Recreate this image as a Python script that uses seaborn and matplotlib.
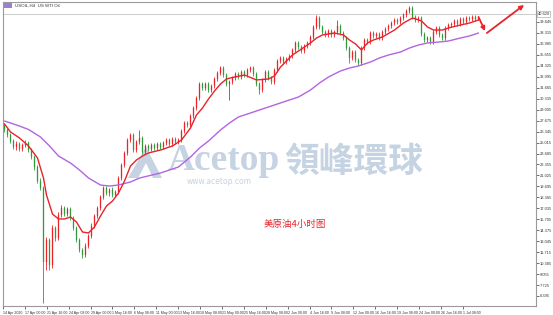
import numpy as np
import pandas as pd
import matplotlib
matplotlib.use("Agg")
import matplotlib.pyplot as plt
import seaborn as sns
from matplotlib.patches import Polygon, Rectangle

# ---------------- data (USOIL H4) ----------------
opens = [27.15, 26.54, 25.93, 25.20, 24.48, 24.84, 24.23, 24.72, 24.96, 24.11,
         23.26, 22.05, 20.35, 19.50, 10.52, 13.19, 10.16, 14.65, 13.43, 16.22,
         17.07, 16.34, 16.95, 15.86, 14.65, 13.19, 11.98, 11.37, 12.46, 13.67,
         14.89, 16.10, 17.07, 18.41, 19.50, 18.89, 19.26, 18.65, 19.01, 20.71,
         22.29, 23.75, 25.32, 25.93, 24.11, 25.08, 25.57, 23.87, 24.60, 24.23,
         24.72, 24.35, 24.84, 24.48, 24.96, 25.32, 24.84, 25.45, 25.08, 25.32,
         26.42, 27.39, 27.15, 28.24, 29.21, 30.42, 32.12, 31.64, 32.12, 31.39,
         31.88, 32.73, 33.46, 34.06, 33.21, 32.12, 32.36, 32.85, 33.33, 32.97,
         33.58, 33.21, 33.82, 34.06, 33.33, 32.12, 31.39, 32.61, 33.58, 32.85,
         32.36, 33.82, 34.91, 35.28, 34.79, 35.15, 35.52, 36.25, 37.10, 36.61,
         36.13, 36.73, 37.10, 37.83, 39.04, 40.13, 39.04, 38.43, 38.07, 38.55,
         38.07, 38.43, 39.16, 38.31, 37.70, 36.49, 35.28, 36.00, 35.03, 34.67,
         36.49, 37.46, 37.22, 38.31, 37.95, 38.19, 37.70, 38.43, 38.80, 39.16,
         39.52, 39.89, 39.65, 40.13, 40.49, 40.98, 41.34, 40.25, 39.89, 40.13,
         38.19, 37.46, 37.70, 37.22, 38.43, 38.92, 38.07, 37.70, 38.92, 39.28,
         39.40, 39.77, 39.40, 40.01, 39.65, 40.13, 40.01, 40.25, 40.01]
closes = [26.54, 25.93, 25.20, 24.48, 24.84, 24.23, 24.72, 24.96, 24.11, 23.26,
          22.05, 20.35, 19.50, 10.52, 13.19, 10.16, 14.65, 13.43, 16.22, 17.07,
          16.34, 16.95, 15.86, 14.65, 13.19, 11.98, 11.37, 12.46, 13.67, 14.89,
          16.10, 17.07, 18.41, 19.50, 18.89, 19.26, 18.65, 19.01, 20.71, 22.29,
          23.75, 25.32, 25.93, 24.11, 25.08, 25.57, 23.87, 24.60, 24.23, 24.72,
          24.35, 24.84, 24.48, 24.96, 25.32, 24.84, 25.45, 25.08, 25.32, 26.42,
          27.39, 27.15, 28.24, 29.21, 30.42, 32.12, 31.64, 32.12, 31.39, 31.88,
          32.73, 33.46, 34.06, 33.21, 32.12, 32.36, 32.85, 33.33, 32.97, 33.58,
          33.21, 33.82, 34.06, 33.33, 32.12, 31.39, 32.61, 33.58, 32.85, 32.36,
          33.82, 34.91, 35.28, 34.79, 35.15, 35.52, 36.25, 37.10, 36.61, 36.13,
          36.73, 37.10, 37.83, 39.04, 40.13, 39.04, 38.43, 38.07, 38.55, 38.07,
          38.43, 39.16, 38.31, 37.70, 36.49, 35.28, 36.00, 35.03, 34.67, 36.49,
          37.46, 37.22, 38.31, 37.95, 38.19, 37.70, 38.43, 38.80, 39.16, 39.52,
          39.89, 39.65, 40.13, 40.49, 40.98, 41.34, 40.25, 39.89, 40.13, 38.19,
          37.46, 37.70, 37.22, 38.43, 38.92, 38.07, 37.70, 38.92, 39.28, 39.40,
          39.77, 39.40, 40.01, 39.65, 40.13, 40.01, 40.25, 40.01, 40.13]
highs = [27.39, 26.78, 26.17, 25.45, 25.20, 25.08, 24.96, 25.32, 25.20, 24.35,
         23.50, 22.29, 20.71, 19.74, 13.55, 13.43, 15.01, 14.89, 16.59, 17.44,
         17.32, 17.19, 17.19, 16.10, 14.89, 13.43, 12.22, 12.83, 13.92, 15.25,
         16.34, 17.32, 18.65, 19.74, 19.74, 19.50, 19.62, 19.26, 20.96, 22.53,
         23.99, 25.57, 26.17, 26.17, 25.32, 26.54, 25.81, 24.84, 24.84, 24.96,
         24.96, 25.08, 25.08, 25.20, 25.57, 25.57, 25.69, 25.69, 25.57, 26.66,
         27.63, 27.63, 28.48, 29.45, 30.66, 32.36, 32.36, 32.36, 32.36, 32.12,
         32.97, 33.70, 34.31, 34.31, 33.46, 32.61, 33.09, 33.58, 33.58, 33.82,
         33.82, 34.06, 34.31, 34.31, 33.58, 32.36, 32.85, 33.82, 33.82, 33.09,
         34.06, 35.15, 35.52, 35.52, 35.40, 35.76, 36.49, 37.34, 37.34, 36.85,
         36.98, 37.34, 38.07, 39.28, 40.49, 40.37, 39.28, 38.67, 38.80, 38.80,
         38.67, 39.89, 39.40, 38.55, 37.95, 36.73, 36.25, 36.25, 35.28, 36.73,
         37.70, 37.70, 38.55, 38.55, 38.43, 38.43, 38.67, 39.04, 39.40, 39.77,
         40.13, 40.13, 40.37, 40.74, 41.22, 41.59, 41.59, 40.49, 40.37, 40.37,
         38.43, 37.95, 37.95, 38.67, 39.16, 39.16, 38.31, 39.16, 39.52, 39.65,
         40.01, 40.01, 40.25, 40.25, 40.37, 40.37, 40.49, 40.49, 40.37]
lows = [26.30, 25.69, 24.96, 24.23, 24.11, 23.99, 23.99, 24.48, 23.87, 23.02,
        21.68, 20.11, 19.26, 5.55, 9.55, 9.55, 9.79, 13.07, 13.19, 15.98,
        16.10, 16.10, 15.62, 14.40, 12.95, 11.73, 11.00, 11.13, 12.22, 13.43,
        14.65, 15.86, 16.83, 18.16, 18.65, 18.53, 18.41, 18.41, 18.77, 20.47,
        22.05, 23.50, 25.08, 23.87, 23.87, 24.84, 23.63, 23.63, 23.99, 23.99,
        24.11, 24.11, 24.23, 24.23, 24.72, 24.60, 24.60, 24.84, 24.84, 25.08,
        26.17, 26.90, 26.90, 27.99, 28.97, 30.18, 31.39, 31.39, 31.15, 31.15,
        31.64, 32.49, 33.21, 32.97, 31.88, 30.18, 32.12, 32.61, 32.73, 32.73,
        32.97, 32.97, 33.58, 33.09, 31.88, 30.91, 31.15, 32.36, 32.61, 32.12,
        32.12, 33.58, 34.67, 34.55, 34.55, 34.91, 35.28, 36.00, 36.37, 35.88,
        35.88, 36.49, 36.85, 37.58, 38.80, 38.80, 38.19, 37.83, 37.83, 37.83,
        37.83, 38.19, 38.07, 37.46, 36.25, 34.67, 35.03, 34.79, 34.43, 34.43,
        36.25, 36.98, 36.98, 37.70, 37.70, 37.46, 37.46, 38.19, 38.55, 38.92,
        39.28, 39.40, 39.40, 39.89, 40.25, 40.74, 40.01, 39.65, 39.65, 37.95,
        37.22, 37.22, 36.98, 36.98, 38.19, 37.83, 37.46, 37.46, 38.67, 39.04,
        39.16, 39.16, 39.16, 39.40, 39.40, 39.77, 39.77, 39.77, 39.89]

# fast moving average (red), read at these bar numbers
ma_fast_bar = [0, 2, 5, 8, 11, 13, 14, 16, 18, 20, 22, 24, 26, 28, 30, 32, 34, 36, 38, 40,
               42, 44, 46, 48, 52, 56, 59, 62, 64, 66, 68, 70, 72, 74, 76, 80, 84, 88, 90, 92,
               94, 96, 98, 100, 102, 104, 106, 110, 113, 115, 117, 119, 121, 123, 126, 130,
               133, 136, 139, 141, 143, 146, 148, 152, 155, 158]
ma_fast_val = [27.27, 26.30, 25.57, 24.60, 23.14, 20.71, 18.65, 16.34, 15.74, 15.74,
               15.98, 15.37, 14.16, 14.04, 14.77, 16.10, 17.32, 17.92, 18.89, 20.35,
               22.17, 22.90, 23.38, 23.75, 24.11, 24.60, 25.32, 26.78, 28.36, 29.21,
               30.30, 31.27, 32.12, 32.73, 32.91, 33.21, 32.61, 32.73, 33.09, 34.18,
               34.91, 35.64, 36.13, 36.61, 37.10, 37.70, 38.07, 38.31, 38.07, 37.46,
               36.98, 36.25, 37.10, 37.46, 37.83, 38.67, 39.52, 40.13, 39.77, 39.04,
               38.67, 38.67, 38.92, 39.28, 39.52, 39.89]
# slow moving average (purple)
ma_slow_bar = [0, 2, 5, 8, 12, 15, 18, 22, 25, 28, 32, 35, 38, 42, 45, 52, 58, 62, 65, 68,
               72, 75, 78, 82, 85, 88, 92, 95, 98, 102, 105, 108, 112, 115, 118, 122, 125,
               128, 132, 135, 138, 141, 145, 148, 152, 155, 158]
ma_slow_val = [27.63, 27.39, 27.02, 26.60, 25.69, 24.60, 23.38, 22.53, 21.68, 20.71,
               19.86, 19.74, 19.86, 20.23, 20.71, 21.32, 22.05, 23.26, 24.35, 25.20,
               26.54, 27.39, 28.12, 28.60, 28.97, 29.33, 29.82, 30.18, 30.54, 31.39,
               32.24, 32.97, 33.70, 34.06, 34.31, 34.79, 35.28, 35.64, 36.00, 36.49,
               36.85, 37.10, 37.22, 37.34, 37.70, 37.95, 38.31]

price_ticks = [6.395, 7.725, 9.055, 10.385, 11.715, 13.045, 14.375, 15.705, 17.035,
               18.365, 19.695, 21.025, 22.355, 23.685, 25.015, 26.345, 27.675, 29.005,
               30.335, 31.665, 32.995, 34.325, 35.655, 36.985, 38.315, 39.645]
date_labels = ["14 Apr 2020", "17 Apr 00:00", "21 Apr 16:00", "24 Apr 08:00", "29 Apr 00:00",
               "1 May 16:00", "6 May 08:00", "11 May 00:00", "13 May 16:00", "18 May 08:00",
               "21 May 00:00", "25 May 16:00", "28 May 08:00", "2 Jun 00:00", "4 Jun 16:00",
               "9 Jun 08:00", "12 Jun 00:00", "16 Jun 16:00", "19 Jun 08:00", "24 Jun 00:00",
               "26 Jun 16:00", "1 Jul 08:00"]
current_price = 40.62
# forecast arrows: (bar, price) start -> end
arrow_down = [(158.0, 40.25), (160.2, 38.55)]
arrow_up = [(160.8, 38.31), (173.2, 41.71)]

title_text = "USOIL,H4  US WTI Oil"
note_text = "美原油4小时图"

# ---------------- style ----------------
sns.set_style("white")
plt.rcParams["font.family"] = ["DejaVu Sans", "Noto Sans CJK SC"]
TICKFONT = ["Liberation Sans", "DejaVu Sans"]

W, H = 553, 315
fig = plt.figure(figsize=(W / 100, H / 100), dpi=100)
fig.patch.set_facecolor("white")


def fx(px):
    return px / W


def fy(py):
    return 1 - py / H


ax = fig.add_axes([fx(3), 9 / H, 533 / W, 304 / H])
ax.set_facecolor("white")

RED = "#e8232a"
GREEN = "#2f9a3c"
PURPLE = "#b265e0"

df = pd.DataFrame({"open": opens, "high": highs, "low": lows, "close": closes})
df["bar"] = np.arange(len(df))
df["up"] = df["close"] >= df["open"]
cols = np.where(df["up"], RED, GREEN)

# watermark (behind the price)
wm = "#c6d3e3"
ax.text(fx(224), fy(170), "Acetop", transform=fig.transFigure, ha="center", va="baseline",
        fontsize=27, fontweight="bold", family=["Liberation Serif"], color=wm, zorder=0.5)
ax.text(fx(354), fy(161), "領峰環球", transform=fig.transFigure, ha="center", va="center",
        fontsize=25, fontweight="bold", family=["Noto Sans CJK TC"], color=wm, zorder=0.5)
ax.text(fx(219), fy(181), "www.acetop.com", transform=fig.transFigure, ha="center", va="center",
        fontsize=5.5, family=["DejaVu Sans"], color=wm, zorder=0.5)
logo = Polygon([(fx(128), fy(178)), (fx(146), fy(147)), (fx(162), fy(178)), (fx(153), fy(178)),
                (fx(146), fy(163)), (fx(138), fy(178))], closed=True, transform=fig.transFigure,
               facecolor=wm, edgecolor="none", zorder=0.5)
ax.add_artist(logo)

# current price line
ax.axhline(current_price, color="#c4c4c4", lw=0.6, zorder=1)

# moving averages through seaborn
sns.lineplot(x=ma_slow_bar, y=ma_slow_val, ax=ax, color=PURPLE, lw=1.0, estimator=None,
             sort=False, zorder=3)
sns.lineplot(x=ma_fast_bar, y=ma_fast_val, ax=ax, color=RED, lw=1.0, estimator=None,
             sort=False, zorder=4)

# candles
ax.vlines(df["bar"], df["low"], df["high"], colors=cols, lw=0.6, zorder=2)
body_lo = np.minimum(df["open"], df["close"])
body_h = np.maximum(np.abs(df["close"] - df["open"]), 0.08)
ax.bar(df["bar"], body_h, bottom=body_lo, width=0.62, color=cols, edgecolor=cols,
       lw=0.2, zorder=2)

# forecast arrows
for (s, e) in (arrow_down, arrow_up):
    ax.annotate("", xy=e, xytext=s,
                arrowprops=dict(arrowstyle="-|>", color=RED, lw=1.3, mutation_scale=6,
                                shrinkA=0, shrinkB=0), zorder=6)

# red note
ax.text(fx(295), fy(224), note_text, transform=fig.transFigure, ha="center", va="center",
        fontsize=6.8, family=["Noto Sans CJK SC", "DejaVu Sans"], color=RED, zorder=6)

# axes limits / ticks
ax.set_xlim(-0.5, 177.17)
ax.set_ylim(5.18, 42.07)
ax.yaxis.tick_right()
ax.set_yticks(price_ticks)
ax.set_yticklabels([f"{v:.3f}" for v in price_ticks])
ax.tick_params(axis="y", which="both", direction="out", length=2, width=0.5, pad=1,
               labelsize=2.9, colors="#333333")
label_step = 7.3
ax.set_xticks([-0.5 + label_step * k for k in range(len(date_labels))])
ax.set_xticklabels(date_labels, ha="left")
ax.tick_params(axis="x", which="both", direction="out", length=2, width=0.5, pad=1.5,
               labelsize=2.6, colors="#333333", bottom=True)
for lab in ax.get_xticklabels() + ax.get_yticklabels():
    lab.set_family(TICKFONT)
ax.set_xlabel("")
ax.set_ylabel("")
for sp in ax.spines.values():
    sp.set_color("#9a9a9a")
    sp.set_linewidth(0.8)
    sp.set_visible(True)

# current price box on the axis
ax.text(1.003, current_price, f"{current_price:.3f}", transform=ax.get_yaxis_transform(),
        ha="left", va="center", fontsize=2.9, family=TICKFONT, color="#333333",
        bbox=dict(boxstyle="square,pad=0.15", fc="white", ec="#9a9a9a", lw=0.4), zorder=7,
        clip_on=False)

# chart title
fig.add_artist(Rectangle((fx(4), fy(8)), fx(8), 5 / H, transform=fig.transFigure,
                         facecolor="#9b7fd0", edgecolor="none"))
fig.text(fx(15), fy(5.5), title_text, ha="left", va="center", fontsize=3.2, family=TICKFONT,
         color="#333333")

fig.savefig("out.png", dpi=100, facecolor="white")
